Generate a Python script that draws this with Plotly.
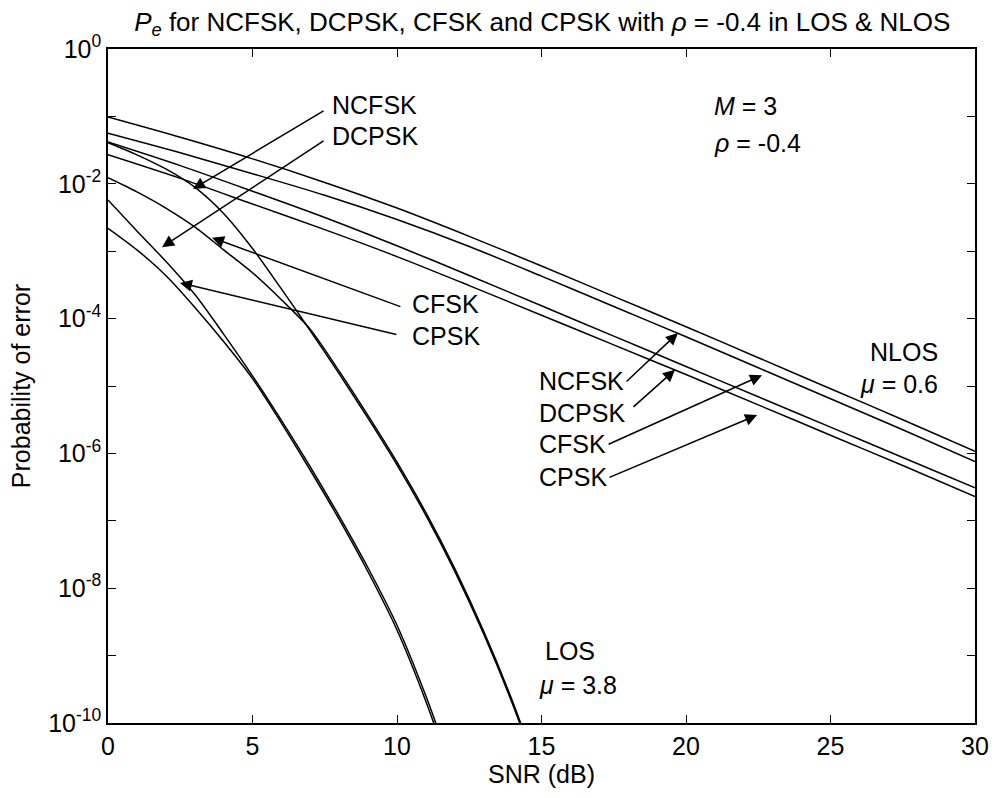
import numpy as np
import plotly.graph_objects as go

# ---------------- data ----------------
# NLOS (mu = 0.6): SNR in dB and log10(Pe)
snr_nlos = [0, 2.5, 5, 7.5, 10, 12.5, 15, 17.5, 20, 22.5, 25, 27.5, 30]
log_pe_ncfsk_nlos = [-1.01, -1.31, -1.63, -1.98, -2.36, -2.78, -3.22, -3.67, -4.12, -4.58, -5.04, -5.50, -5.97]
log_pe_cfsk_nlos = [-1.25, -1.54, -1.85, -2.17, -2.53, -2.93, -3.37, -3.82, -4.27, -4.73, -5.19, -5.65, -6.12]
log_pe_dcpsk_nlos = [-1.38, -1.73, -2.11, -2.50, -2.92, -3.36, -3.81, -4.26, -4.71, -5.16, -5.61, -6.06, -6.51]
log_pe_cpsk_nlos = [-1.57, -1.92, -2.30, -2.68, -3.08, -3.51, -3.95, -4.39, -4.83, -5.28, -5.73, -6.18, -6.64]

# LOS (mu = 3.8)
snr_los_fsk = [0, 1, 2, 3, 4, 5, 6, 7, 8, 9, 10, 11, 12, 13, 14, 15]
log_pe_ncfsk_los = [-1.39, -1.57, -1.78, -2.05, -2.44, -2.96, -3.56, -4.18, -4.82, -5.48, -6.17, -6.92, -7.75, -8.68, -9.72, -10.9]
log_pe_cfsk_los = [-1.91, -2.12, -2.36, -2.64, -2.98, -3.32, -3.72, -4.16, -4.78, -5.44, -6.13, -6.88, -7.71, -8.64, -9.68, -10.86]
snr_los_psk = [0, 1, 2, 3, 4, 5, 6, 7, 8, 9, 10, 11, 12]
log_pe_dcpsk_los = [-2.24, -2.70, -3.15, -3.64, -4.23, -4.85, -5.51, -6.20, -6.93, -7.70, -8.55, -9.60, -10.8]
log_pe_cpsk_los = [-2.66, -2.98, -3.36, -3.83, -4.34, -4.89, -5.55, -6.25, -6.98, -7.76, -8.62, -9.68, -10.9]

x_ticks = [0, 5, 10, 15, 20, 25, 30]
y_tick_exps = [0, -1, -2, -3, -4, -5, -6, -7, -8, -9, -10]

FONT = "Liberation Sans, Arial, Helvetica, sans-serif"
TXT = 25

fig = go.Figure()
series = [
    ("NCFSK NLOS", snr_nlos, log_pe_ncfsk_nlos),
    ("CFSK NLOS", snr_nlos, log_pe_cfsk_nlos),
    ("DCPSK NLOS", snr_nlos, log_pe_dcpsk_nlos),
    ("CPSK NLOS", snr_nlos, log_pe_cpsk_nlos),
    ("NCFSK LOS", snr_los_fsk, log_pe_ncfsk_los),
    ("CFSK LOS", snr_los_fsk, log_pe_cfsk_los),
    ("DCPSK LOS", snr_los_psk, log_pe_dcpsk_los),
    ("CPSK LOS", snr_los_psk, log_pe_cpsk_los),
]
for name, xs, ls in series:
    fig.add_trace(go.Scatter(
        x=xs, y=10.0 ** np.array(ls), mode="lines", name=name,
        line=dict(color="black", width=1.5, shape="spline", smoothing=0.8),
        showlegend=False,
    ))

annotations = []
# arrows: (tail_x, tail_log10y, tip_x, tip_log10y)
arrows = [
    (7.51, -0.905, 2.94, -2.077),   # NCFSK LOS
    (7.51, -1.35, 1.87, -2.94),     # DCPSK LOS
    (10.17, -3.83, 3.60, -2.80),    # CFSK LOS
    (10.03, -4.24, 2.49, -3.47),    # CPSK LOS
    (17.89, -4.955, 19.72, -4.214), # NCFSK NLOS
    (18.13, -5.33, 19.62, -4.76),   # DCPSK NLOS
    (17.27, -5.875, 22.63, -4.84),  # CFSK NLOS
    (17.30, -6.365, 22.46, -5.43),  # CPSK NLOS
]
for tx, ty, hx, hy in arrows:
    annotations.append(dict(
        x=hx, y=hy, ax=tx, ay=ty, xref="x", yref="y", axref="x", ayref="y",
        text="", showarrow=True, arrowhead=2, arrowsize=1.6, arrowwidth=1.5,
        arrowcolor="black", standoff=0, startstandoff=0,
    ))

labels = [
    ("NCFSK", 7.68, -0.83),
    ("DCPSK", 7.68, -1.29),
    ("CFSK", 10.45, -3.78),
    ("CPSK", 10.45, -4.26),
    ("NCFSK", 14.84, -4.93),
    ("DCPSK", 14.84, -5.40),
    ("CFSK", 14.84, -5.86),
    ("CPSK", 14.84, -6.35),
    ("<i>M</i> = 3", 20.9, -0.85),
    ("<i>ρ</i> = -0.4", 20.9, -1.40),
    ("NLOS", 26.3, -4.50),
    ("<i>μ</i> = 0.6", 25.95, -4.97),
    ("LOS", 15.05, -8.93),
    ("<i>μ</i> = 3.8", 14.84, -9.44),
]
for txt, x, y in labels:
    annotations.append(dict(
        x=x, y=y, xref="x", yref="y", text=txt, showarrow=False,
        xanchor="left", yanchor="middle", font=dict(family=FONT, size=TXT, color="black"),
    ))

fig.update_layout(
    width=995, height=798,
    margin=dict(l=108, r=20, t=49, b=75, autoexpand=False),
    paper_bgcolor="white", plot_bgcolor="white",
    font=dict(family=FONT, size=TXT, color="black"),
    title=dict(
        text="<i>P<sub>e</sub></i> for NCFSK, DCPSK, CFSK and CPSK with <i>ρ</i> = -0.4 in LOS &amp; NLOS",
        x=0.545, xanchor="center", y=0.973, yanchor="middle",
        font=dict(family=FONT, size=26, color="black"),
    ),
    annotations=annotations,
)
fig.update_xaxes(
    range=[0, 30], tickvals=x_ticks, ticktext=[str(v) for v in x_ticks],
    ticks="inside", ticklen=8, tickwidth=1, tickcolor="black",
    showline=True, linecolor="black", linewidth=1.5, mirror="allticks",
    showgrid=False, zeroline=False, ticklabeloverflow="allow",
    title=dict(text="SNR (dB)", standoff=4, font=dict(family=FONT, size=TXT)),
    tickfont=dict(family=FONT, size=TXT),
)
fig.update_yaxes(
    type="log", range=[-10, 0],
    tickvals=[10.0 ** e for e in y_tick_exps],
    ticktext=[("10<sup>%d</sup>" % e) if e % 2 == 0 else "" for e in y_tick_exps],
    ticks="inside", ticklen=8, tickwidth=1, tickcolor="black",
    showline=True, linecolor="black", linewidth=1.5, mirror="allticks",
    showgrid=False, zeroline=False, ticklabeloverflow="allow",
    title=dict(text="Probability of error", standoff=10, font=dict(family=FONT, size=TXT)),
    tickfont=dict(family=FONT, size=TXT),
)

fig.write_html(
    "out.html",
    config={"displayModeBar": False},
    post_script="document.body.style.margin='0';document.body.style.overflow='hidden';",
)
